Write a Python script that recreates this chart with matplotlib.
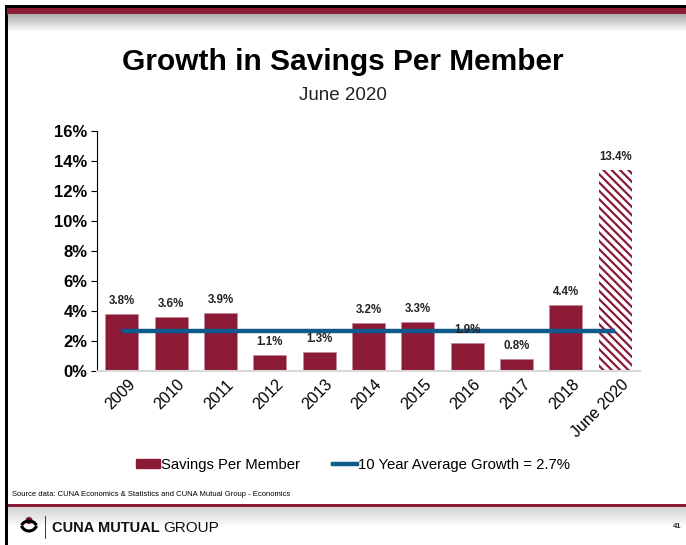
import numpy as np
import matplotlib.pyplot as plt
import matplotlib.transforms as mtransforms
from matplotlib.patches import Rectangle, Circle, Arc
from matplotlib.lines import Line2D

plt.rcParams['font.family'] = ['Liberation Sans', 'DejaVu Sans']
plt.rcParams['hatch.linewidth'] = 1.6

# ===== data =====
periods = ['2009', '2010', '2011', '2012', '2013', '2014', '2015',
           '2016', '2017', '2018', 'June 2020']
growth = [3.8, 3.6, 3.9, 1.1, 1.3, 3.2, 3.3, 1.9, 0.8, 4.4, 13.4]
avg_growth = 2.7
y_ticks = [0, 2, 4, 6, 8, 10, 12, 14, 16]

maroon = '#8a1a36'
navy = '#0f5a8c'

W, H = 686, 545
fig = plt.figure(figsize=(W / 100, H / 100), dpi=100)

# ===== slide frame (pixel coordinates) =====
deco = fig.add_axes([0, 0, 1, 1], zorder=0)
deco.axis('off')

deco.add_patch(Rectangle((5, 5), W, 2.5, color='black', lw=0))
deco.add_patch(Rectangle((5, 5), 2.5, H, color='black', lw=0))
deco.add_patch(Rectangle((7, 7.5), W, 7, color=maroon, lw=0))
shade = np.linspace(0.68, 1.0, 64)[:, None] * np.ones((1, 2))
deco.imshow(shade, cmap='gray', vmin=0, vmax=1, aspect='auto',
            extent=(7.5, W, 32, 14.5), zorder=1)
deco.add_patch(Rectangle((7.5, 503.5), W, 3.5, color=maroon, lw=0, zorder=2))
shade2 = np.linspace(0.82, 1.0, 64)[:, None] * np.ones((1, 2))
deco.imshow(shade2, cmap='gray', vmin=0, vmax=1, aspect='auto',
            extent=(7.5, W, 527, 507), zorder=1)
deco.set_xlim(0, W)
deco.set_ylim(H, 0)

# logo
deco.add_patch(Circle((29, 520.5), 3.6, color=maroon, lw=0, zorder=3))
deco.add_patch(Arc((29, 528), 16, 14, theta1=200, theta2=340, color='black', lw=2.2, zorder=3))
deco.add_patch(Arc((29, 523), 16, 16, theta1=20, theta2=160, color='black', lw=2.2, zorder=3))
deco.add_patch(Rectangle((44.5, 516), 1.2, 23, color=maroon, lw=0, zorder=3))
brand = deco.text(52, 528, 'CUNA MUTUAL', fontsize=10.5, fontweight='bold',
                  va='center', ha='left', color='#111111')
fig.canvas.draw()
bb = brand.get_window_extent().transformed(deco.transData.inverted())
deco.text(max(bb.x0, bb.x1) + 3, 528, 'GROUP', fontsize=11, va='center', ha='left',
          color='#111111')
deco.text(681, 527, '41', fontsize=5.5, fontweight='bold', color='#333333',
          va='center', ha='right')
deco.text(12, 495, 'Source data: CUNA Economics & Statistics and CUNA Mutual Group - Economics',
          fontsize=5.5, va='center', ha='left')

# titles
fig.text(0.5, 1 - 62 / H, 'Growth in Savings Per Member', fontsize=21.5,
         fontweight='bold', ha='center', va='center')
fig.text(0.5, 1 - 96 / H, 'June 2020', fontsize=13.5, ha='center', va='center',
         color='#222222')

# ===== chart =====
ax = fig.add_axes([97 / W, 1 - 371 / H, 543 / W, 240 / H], zorder=2)
ax.patch.set_alpha(0)
x = np.arange(len(periods))

bars = ax.bar(x, growth, width=0.67, color=maroon, edgecolor='#c58a99',
              linewidth=0.6, label='Savings Per Member', zorder=2)
last = bars[-1]
last.set_facecolor('white')
last.set_edgecolor(maroon)
last.set_linewidth(0)
last.set_hatch('\\' * 4)

ax.plot([x[0], x[-1]], [avg_growth, avg_growth], color=navy, lw=3.2,
        solid_capstyle='butt', label='10 Year Average Growth = 2.7%', zorder=3)

for xi, v in zip(x, growth):
    ax.annotate(f'{v:.1f}%', (xi, v), xytext=(0, 5), textcoords='offset points',
                ha='center', va='bottom', fontsize=8.3, fontweight='bold',
                color='#222222', zorder=4)

ax.set_xlim(-0.5, len(periods) - 0.5)
ax.set_ylim(0, 16)
ax.set_yticks(y_ticks)
ax.set_yticklabels([f'{t}%' for t in y_ticks], fontsize=12, fontweight='bold')
ax.tick_params(axis='y', direction='out', length=4, width=0.8, pad=3)
ax.set_xticks(x)
ax.set_xticklabels(periods, rotation=45, ha='right', va='center',
                   rotation_mode='anchor', fontsize=11.5)
ax.tick_params(axis='x', length=0, pad=8)
shift = mtransforms.ScaledTranslation(8 / 72, 0, fig.dpi_scale_trans)
for lbl in ax.get_xticklabels():
    lbl.set_transform(lbl.get_transform() + shift)

for s in ['top', 'right']:
    ax.spines[s].set_visible(False)
ax.spines['left'].set_linewidth(0.8)
ax.spines['bottom'].set_color('#d9d9d9')
ax.spines['bottom'].set_linewidth(1.5)

handles = [Rectangle((0, 0), 1, 1, color=maroon),
           Line2D([0], [0], color=navy, lw=3.2)]
fig.legend(handles, ['Savings Per Member', '10 Year Average Growth = 2.7%'],
           loc='center', bbox_to_anchor=(0.515, 1 - 465 / H), ncol=2,
           frameon=False, fontsize=10.7, handlelength=1.6, handleheight=0.5,
           handletextpad=0.1, columnspacing=2.2)

fig.savefig('out.png', dpi=100)
